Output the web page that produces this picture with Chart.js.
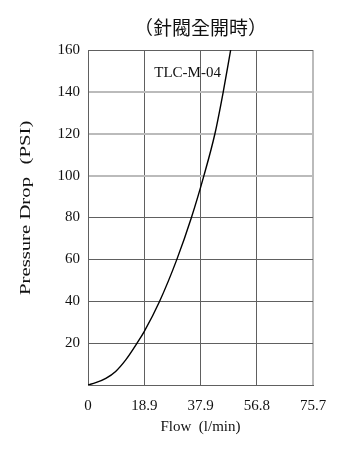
<!DOCTYPE html>
<html>
  <head>
    <title>TLC-M-04</title>
    <meta charset="utf-8">
    <style>
      html, body { margin: 0; padding: 0; background: #fff; }
      canvas { display: block; }
    </style>
  </head>
  <body>
    <canvas id="flowChart" width="355" height="457"></canvas>
    <script src="https://cdn.jsdelivr.net/npm/chart.js"></script>
    <script>
      // values
      var flow = [0, 2.6, 6.0, 9.3, 12.7, 16.5, 18.9, 24.1, 29.9, 34.8, 39.0, 42.7, 45.5, 48.0];
      var pressure = [0, 1.1, 3.2, 6.5, 12.0, 20, 25.5, 40, 60, 80, 100, 120, 140, 160];

      var xTickValues = [0, 18.925, 37.85, 56.775, 75.7];
      var xTickLabels = ['0', '18.9', '37.9', '56.8', '75.7'];
      var yLightLines = [100, 120, 140];

      var chartTitle = '（針閥全開時）';
      var curveLabel = 'TLC-M-04';
      var yTitle = ['Pressure Drop', '(PSI)'];

      var serif = '"Liberation Serif", "DejaVu Serif", serif';
      var dark = '#606060';
      var light = '#bbbbbb';

      var points = flow.map(function (f, i) {
        return { x: f, y: pressure[i] };
      });

      // title, curve name and the (stretched) y axis title
      var extraText = {
        id: 'extraText',
        afterDraw: function (chart) {
          var ctx = chart.ctx;
          var xs = chart.scales.x;
          var ys = chart.scales.y;
          ctx.save();
          ctx.fillStyle = '#111';
          ctx.textAlign = 'center';
          ctx.textBaseline = 'middle';
          ctx.font = '19px "Noto Sans CJK TC"';
          ctx.fillText(chartTitle, (chart.chartArea.left + chart.chartArea.right) / 2, 28);
          ctx.font = '15px ' + serif;
          ctx.fillText(curveLabel, xs.getPixelForValue(33.5), ys.getPixelForValue(149));

          var stretch = 118 / ctx.measureText(yTitle[0]).width;
          ctx.translate(26, 0);
          ctx.rotate(-Math.PI / 2);
          ctx.scale(stretch, 1);
          ctx.fillText(yTitle[0], -236 / stretch, 0);
          ctx.fillText(yTitle[1], -142.5 / stretch, 0);
          ctx.restore();
        }
      };

      var config = {
        type: 'scatter',
        data: {
          datasets: [{
            data: points,
            showLine: true,
            borderColor: '#000',
            borderWidth: 1.4,
            pointRadius: 0,
            cubicInterpolationMode: 'monotone'
          }]
        },
        options: {
          responsive: false,
          animation: false,
          devicePixelRatio: 1,
          layout: {
            padding: { top: 50, right: 42, left: 0, bottom: 0 }
          },
          plugins: {
            legend: { display: false },
            tooltip: { enabled: false }
          },
          scales: {
            x: {
              type: 'linear',
              min: 0,
              max: 75.7,
              afterBuildTicks: function (scale) {
                scale.ticks = xTickValues.map(function (v) { return { value: v }; });
              },
              afterFit: function (scale) {
                scale.height = 72;
              },
              ticks: {
                autoSkip: false,
                maxRotation: 0,
                padding: 12,
                color: '#111',
                font: { family: serif, size: 15 },
                callback: function (value, index) {
                  return xTickLabels[index];
                }
              },
              grid: {
                drawTicks: false,
                color: function (ctx) {
                  return ctx.tick && ctx.tick.value === 75.7 ? light : dark;
                },
                lineWidth: function (ctx) {
                  return ctx.tick && ctx.tick.value === 75.7 ? 2 : 1;
                }
              },
              border: { color: dark, width: 1 },
              title: {
                display: true,
                text: 'Flow  (l/min)',
                color: '#111',
                font: { family: serif, size: 15 },
                padding: { top: 0, bottom: 21 }
              }
            },
            y: {
              min: 0,
              max: 160,
              afterFit: function (scale) {
                scale.width = 88;
              },
              ticks: {
                stepSize: 20,
                padding: 8,
                color: '#111',
                font: { family: serif, size: 15 },
                callback: function (value) {
                  return value === 0 ? '' : value;
                }
              },
              grid: {
                drawTicks: false,
                color: function (ctx) {
                  return ctx.tick && yLightLines.indexOf(ctx.tick.value) >= 0 ? light : dark;
                },
                lineWidth: function (ctx) {
                  return ctx.tick && yLightLines.indexOf(ctx.tick.value) >= 0 ? 2 : 1;
                }
              },
              border: { color: dark, width: 1 }
            }
          }
        },
        plugins: [extraText]
      };

      var flowChart = new Chart(document.getElementById('flowChart'), config);
    </script>
  </body>
</html>
